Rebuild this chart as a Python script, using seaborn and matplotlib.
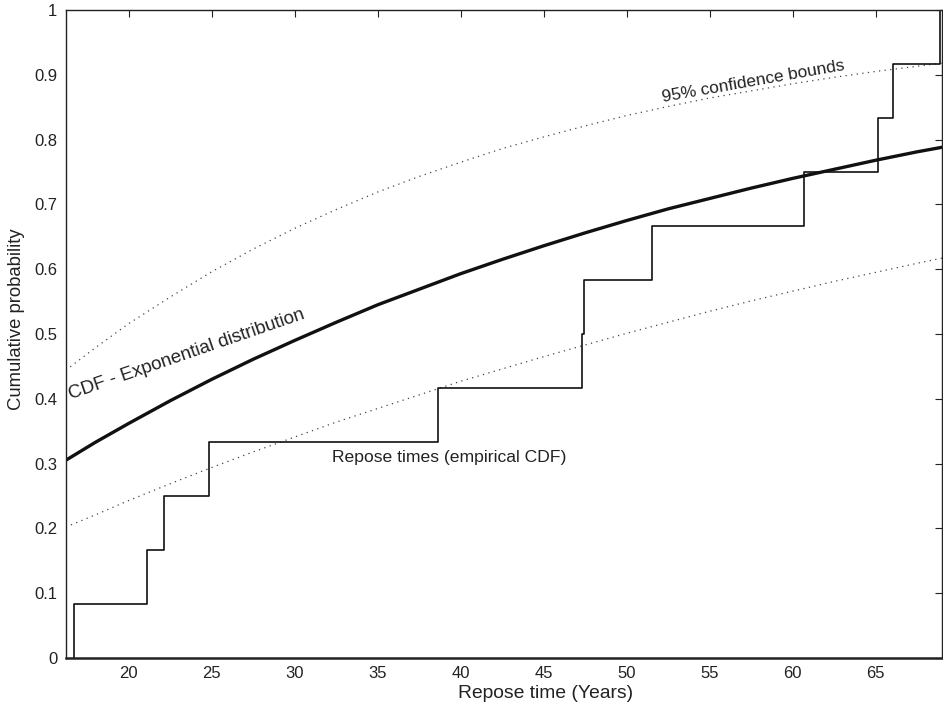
import matplotlib
matplotlib.use("Agg")
import matplotlib.pyplot as plt
import seaborn as sns
import pandas as pd

# repose times (years), read from the step positions
repose_times = [16.7, 21.1, 22.15, 24.85, 38.6, 47.3, 47.4, 51.5, 60.7, 65.15, 66.05, 68.9]

# fitted exponential CDF and 95% bounds
curve_x = [16.2, 18, 20, 22.5, 25, 27.5, 30, 32.5, 35, 37.5, 40, 42.5, 45,
           47.5, 50, 52.5, 55, 57.5, 60, 62.5, 65, 67.5, 69]
cdf_fit = [0.305, 0.333, 0.362, 0.397, 0.430, 0.461, 0.490, 0.518, 0.545, 0.569,
           0.593, 0.615, 0.636, 0.656, 0.675, 0.693, 0.709, 0.725, 0.740, 0.754,
           0.768, 0.781, 0.788]
cdf_upper = [0.444, 0.479, 0.516, 0.557, 0.596, 0.631, 0.663, 0.692, 0.719, 0.743,
             0.765, 0.786, 0.804, 0.821, 0.837, 0.851, 0.864, 0.875, 0.886, 0.896,
             0.905, 0.913, 0.918]
cdf_lower = [0.202, 0.221, 0.243, 0.269, 0.294, 0.318, 0.341, 0.364, 0.385, 0.406,
             0.427, 0.446, 0.465, 0.483, 0.501, 0.518, 0.535, 0.551, 0.566, 0.581,
             0.595, 0.609, 0.617]

x_ticks = [20, 25, 30, 35, 40, 45, 50, 55, 60, 65]
y_ticks = [0, 0.1, 0.2, 0.3, 0.4, 0.5, 0.6, 0.7, 0.8, 0.9, 1]
y_ticklabels = ["0", "0.1", "0.2", "0.3", "0.4", "0.5", "0.6", "0.7", "0.8", "0.9", "1"]

sns.set_style("white")
plt.rcParams["font.family"] = ["Liberation Sans", "DejaVu Sans"]

fig = plt.figure(figsize=(9.43, 7.06), dpi=100)
ax = fig.add_axes([0.0697, 0.068, 0.9293, 0.918])

curves = pd.DataFrame({"x": curve_x, "fit": cdf_fit, "upper": cdf_upper, "lower": cdf_lower})

# confidence bounds (dotted)
for col in ["upper", "lower"]:
    sns.lineplot(data=curves, x="x", y=col, ax=ax, color="#444444",
                 linewidth=0.9, linestyle=(0, (1, 3.5)), legend=False)

# fitted exponential CDF
sns.lineplot(data=curves, x="x", y="fit", ax=ax, color="#111111", linewidth=2.4)

# empirical CDF
sns.ecdfplot(x=repose_times, ax=ax, color="#111111", linewidth=1.2)

ax.set_xlim(16.2, 69.0)
ax.set_ylim(0, 1)
ax.set_xticks(x_ticks)
ax.set_xticklabels([str(t) for t in x_ticks])
ax.set_yticks(y_ticks)
ax.set_yticklabels(y_ticklabels)
ax.tick_params(direction="in", length=5, width=0.8, top=True, right=True,
               labelsize=12, colors="#222222", pad=6)
ax.set_xlabel("Repose time (Years)", fontsize=13.9, color="#222222")
ax.set_ylabel("Cumulative probability", fontsize=13.3, color="#222222")
ax.xaxis.set_label_coords(0.547, -0.041)
ax.yaxis.set_label_coords(-0.0465, 0.522)

for s in ["left", "top", "right"]:
    ax.spines[s].set_linewidth(1.0)
    ax.spines[s].set_color("#222222")
ax.spines["bottom"].set_linewidth(1.8)
ax.spines["bottom"].set_color("#222222")

ax.text(23.5, 0.468, "CDF - Exponential distribution", rotation=19,
        fontsize=13.5, ha="center", va="center", color="#222222")
ax.text(57.65, 0.89, "95% confidence bounds", rotation=10,
        fontsize=12.4, ha="center", va="center", color="#222222")
ax.text(39.3, 0.309, "Repose times (empirical CDF)",
        fontsize=12.6, ha="center", va="center", color="#222222")

fig.savefig("out.png", dpi=100)
